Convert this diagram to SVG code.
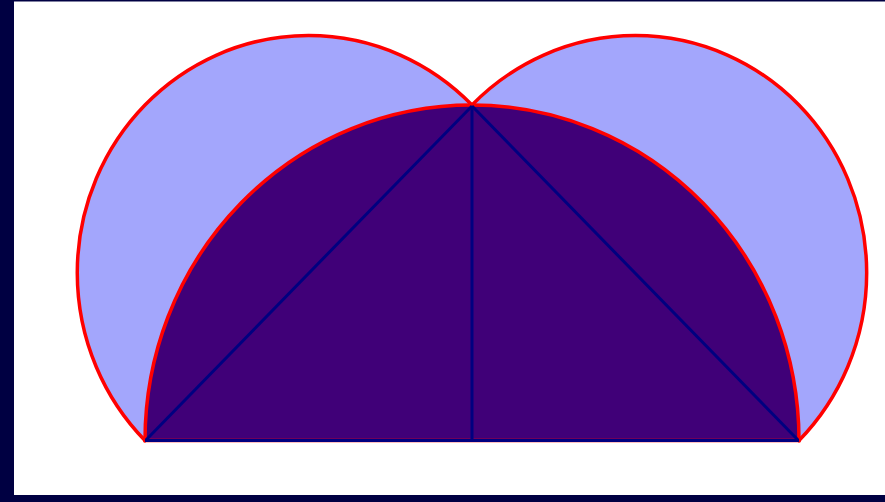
<svg xmlns="http://www.w3.org/2000/svg" width="885" height="502" viewBox="0 0 885 502">
  <style>
    .lune { fill: #a3a6fc; stroke: #ff0000; stroke-width: 3.5; }
    .big { fill: #400078; stroke: #ff0000; stroke-width: 3.5; }
    .leg { stroke: #000080; stroke-width: 3; fill: none; }
  </style>
  <rect x="0" y="0" width="885" height="502" fill="#000042"/>
  <rect x="14" y="1.5" width="871" height="493.5" fill="#ffffff"/>
  <g id="lune-left">
    <path class="lune" d="M145,440.5 A231.2,237.2 0 0 1 472,105 Z"/>
  </g>
  <g id="lune-right">
    <path class="lune" d="M472,105 A231.2,237.2 0 0 1 799,440.5 Z"/>
  </g>
  <g id="semicircle">
    <path class="big" d="M145,440.5 A327,335.5 0 0 1 799,440.5 Z"/>
  </g>
  <g id="connectors">
    <line class="leg" x1="146" y1="440" x2="472" y2="106"/>
    <line class="leg" x1="798" y1="440" x2="472" y2="106"/>
    <line class="leg" x1="472" y1="106" x2="472" y2="440" stroke-width="2"/>
    <line class="leg" x1="145" y1="440.5" x2="799" y2="440.5" stroke-width="4.5"/>
  </g>
</svg>
